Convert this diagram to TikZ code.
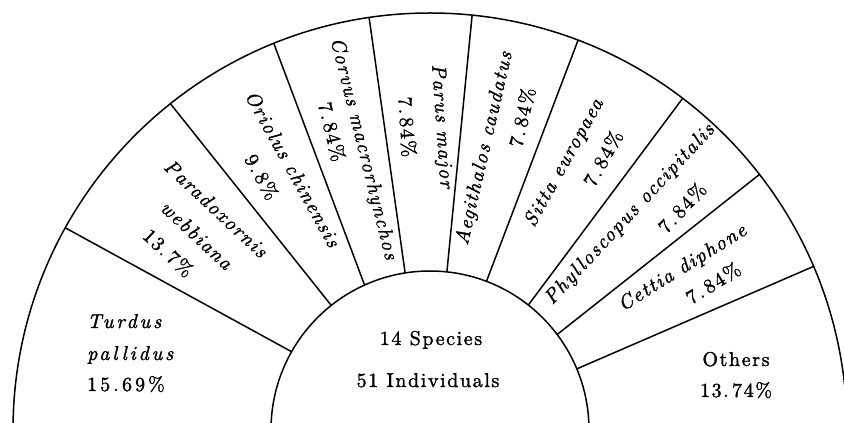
\documentclass[tikz,border=0pt]{standalone}
\usepackage{fontspec}
\setmainfont{lmroman10}[Extension=.otf, UprightFont=*-regular, ItalicFont=*-italic, BoldFont=*-bold, LetterSpace=8, FakeBold=1.5]
\begin{document}
\begin{tikzpicture}[x=1pt,y=1pt]
\tikzset{
  div/.style={line width=1.5pt, black},
  lab/.style={font=\fontsize{20}{24}\selectfont, inner sep=0pt, text=black},
  sp/.style={lab, font=\fontsize{20}{24}\selectfont\itshape},
  wide/.style={font=\fontsize{20}{24}\selectfont\addfontfeature{LetterSpace=15}},
  widesp/.style={font=\fontsize{20}{24}\selectfont\itshape\addfontfeature{LetterSpace=14}}
}
\useasboundingbox (0,0) rectangle (844,423);
\begin{scope}
\clip (0,0) rectangle (844,423);
\begin{scope}[shift={(430,-7)}]
\draw[div] (0:417) arc[start angle=0, end angle=180, radius=417];
\draw[div] (0:159) arc[start angle=0, end angle=180, radius=159];
\foreach \ai/\ao [count=\i] in {150.5/151.0, 128.4/128.5, 114.3/112.0, 99.0/98.4, 83.9/84.2, 69.2/69.2, 51.8/52.7, 36.9/37.8, 22.6/23.1}{
  \coordinate (in\i) at (\ai:159);
  \coordinate (out\i) at (\ao:417);
  \draw[div] (in\i) -- (out\i);
}
% rotated labels
\node[sp, rotate=-43] (pa1) at (134.0:308) {Paradoxornis};
\node[sp, rotate=-43] (pa2) at (140.1:304) {webbiana};
\node[lab, rotate=-43] (pa3) at (145.9:316) {13.\,7\%};
\node[sp, rotate=-61] (or1) at (117.7:295) {Oriolus chinensis};
\node[lab, rotate=-61] (or2) at (123.6:304) {9.\,8\%};
\node[sp, rotate=-76] (co1) at (103.4:289) {Corvus macrorhynchos};
\node[lab, rotate=-76] (co2) at (108.2:314) {7.\,84\%};
\node[sp, rotate=-86] (pm1) at (87.9:304) {Parus major};
\node[lab, rotate=-86] (pm2) at (94.3:304) {7.\,84\%};
\node[sp, rotate=77] (ae1) at (79.0:287) {Aegithalos caudatus};
\node[lab, rotate=77] (ae2) at (73.6:326) {7.\,84\%};
\node[sp, rotate=61] (si1) at (63.3:299) {Sitta europaea};
\node[lab, rotate=61] (si2) at (57.5:322) {7.\,84\%};
\node[sp, rotate=47] (ph1) at (47.1:294) {Phylloscopus occipitalis};
\node[lab, rotate=47] (ph2) at (41.4:336) {7.\,84\%};
\node[sp, rotate=32] (ce1) at (32.6:300) {Cettia diphone};
\node[lab, rotate=32] (ce2) at (27.4:319) {7.\,84\%};
\end{scope}
\end{scope}
% horizontal labels
\node[sp, widesp, anchor=base west] (tu1) at (87,95) {Turdus};
\node[sp, widesp, anchor=base west] (tu2) at (87,63) {pallidus};
\node[lab, wide, anchor=base west] (tu3) at (87,32) {15.\,69\%};
\node[lab, anchor=base] (c1) at (431,78) {14 Species};
\node[lab, anchor=base] (c2) at (428,36) {51 Individuals};
\node[lab, anchor=base] (ot1) at (736,57) {Others};
\node[lab, anchor=base] (ot2) at (736,26) {13.\,74\%};
\end{tikzpicture}
\end{document}
